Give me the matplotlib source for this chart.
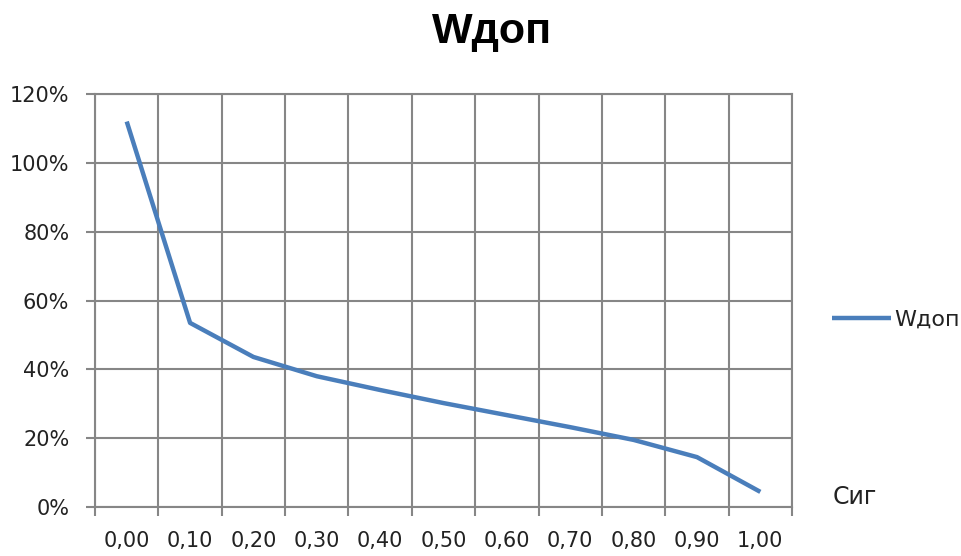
import numpy as np
import matplotlib
matplotlib.use("Agg")
import matplotlib.pyplot as plt

plt.rcParams['font.family'] = ['DejaVu Sans']

# categories (Сиг) and values of Wдоп, in %
categories = ['0,00', '0,10', '0,20', '0,30', '0,40', '0,50',
              '0,60', '0,70', '0,80', '0,90', '1,00']
w_dop = [112.0, 53.5, 43.6, 38.0, 34.0, 30.2, 26.7, 23.2, 19.5, 14.5, 4.4]
y_ticks = [0, 20, 40, 60, 80, 100, 120]

grid_col = '#868686'
line_col = '#4A7EBB'
text_col = '#222222'

fig = plt.figure(figsize=(9.62, 5.56), dpi=100)
ax = fig.add_axes([0.0988, 0.0881, 0.7245, 0.7428])

x = np.arange(len(categories))
ax.plot(x, w_dop, color=line_col, lw=3.2, label='Wдоп', solid_capstyle='butt')

ax.set_xlim(-0.5, len(categories) - 0.5)
ax.set_ylim(0, 120)

# gridlines between categories (Excel style)
ax.set_xticks(np.arange(-0.5, len(categories), 1.0))
ax.set_xticklabels([])
ax.set_xticks(x, minor=True)
ax.set_xticklabels(categories, minor=True, fontsize=15, color=text_col)
ax.tick_params(axis='x', which='minor', length=0, pad=17)
ax.tick_params(axis='x', which='major', length=6.5, width=1.5, color=grid_col)

ax.set_yticks(y_ticks)
ax.set_yticklabels([f'{v}%' for v in y_ticks], fontsize=15, color=text_col)
ax.tick_params(axis='y', length=6.5, width=1.5, color=grid_col, pad=12)

ax.grid(True, which='major', color=grid_col, lw=1.5)
ax.set_axisbelow(True)
for s in ax.spines.values():
    s.set_color(grid_col)
    s.set_linewidth(1.5)

fig.text(0.5114, 0.942, 'Wдоп', ha='center', va='center', fontsize=31,
         fontweight='bold', family='Liberation Sans')
fig.text(0.865, 0.106, 'Сиг', ha='left', va='center', fontsize=17, color=text_col)

leg = fig.legend(loc='center left', bbox_to_anchor=(0.8649, 0.4245), frameon=False,
                 fontsize=16, handlelength=2.65, handletextpad=0.15,
                 borderpad=0, borderaxespad=0)
for t in leg.get_texts():
    t.set_color(text_col)

fig.savefig('out.png', dpi=100)
